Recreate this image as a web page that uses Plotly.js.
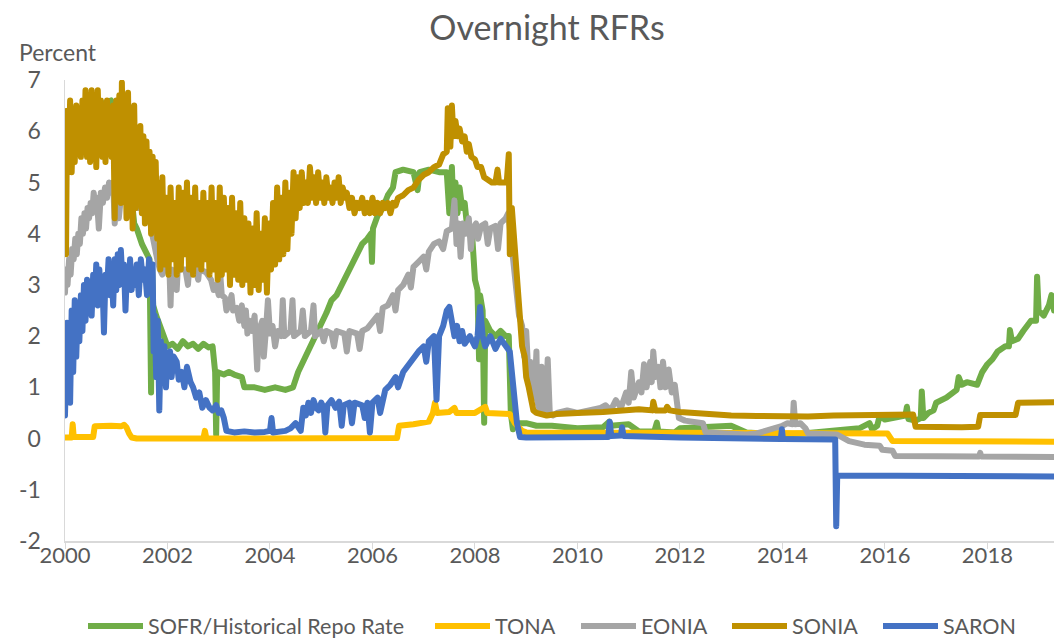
<!DOCTYPE html>
<html>
<head>
<meta charset="utf-8">
<script src="https://cdn.plot.ly/plotly-3.0.1.min.js"></script>
<style>
  html, body { margin: 0; padding: 0; background: #fff; }
  #chart { width: 1054px; height: 638px; }
  .scatterlayer path.js-line { stroke-linejoin: round; stroke-linecap: round; }
</style>
</head>
<body>
<div id="chart"></div>
<script>
// ---- data: [decimal year, percent] ----
const seriesNames = ["SOFR/Historical Repo Rate", "TONA", "EONIA", "SONIA", "SARON"];
const seriesColors = ["#70AD47", "#FFC000", "#A5A5A5", "#BF9000", "#4472C4"];
const tickYears = [2000, 2002, 2004, 2006, 2008, 2010, 2012, 2014, 2016, 2018];
const tickValues = [-2, -1, 0, 1, 2, 3, 4, 5, 6, 7];

const sofr = [[2000.00,5.5],[2000.1,5.6],[2000.2,5.8],[2000.3,6.0],[2000.4,6.4],[2000.5,6.5],[2000.8,6.55],[2000.9,6.6],
[2001.0,6.3],[2001.05,5.8],[2001.1,5.5],[2001.2,5.0],[2001.3,4.7],[2001.35,4.2],[2001.4,4.1],[2001.5,3.8],[2001.6,3.6],
[2001.65,3.5],[2001.68,0.9],[2001.70,3.3],[2001.72,2.6],[2001.78,2.4],[2001.85,2.2],[2001.9,2.0],[2001.95,1.9],[2002.0,1.8],
[2002.1,1.85],[2002.2,1.75],[2002.3,1.9],[2002.4,1.8],[2002.5,1.85],[2002.6,1.75],[2002.7,1.85],[2002.8,1.78],[2002.88,1.8],
[2002.9,1.35],[2002.93,1.3],[2002.95,0.08],[2002.97,1.3],[2003.1,1.25],[2003.2,1.3],[2003.3,1.25],[2003.45,1.2],[2003.5,1.0],
[2003.7,1.0],[2003.9,0.95],[2004.1,1.0],[2004.3,0.95],[2004.45,1.0],[2004.55,1.3],[2004.65,1.5],[2004.75,1.75],[2004.85,1.9],
[2005.0,2.2],[2005.1,2.45],[2005.2,2.7],[2005.3,2.8],[2005.4,3.0],[2005.5,3.2],[2005.6,3.45],[2005.7,3.6],[2005.8,3.8],
[2005.9,3.9],[2005.97,4.0],[2005.99,3.45],[2006.01,4.1],[2006.1,4.35],[2006.2,4.5],[2006.3,4.75],[2006.4,4.9],[2006.45,5.2],
[2006.6,5.25],[2006.8,5.2],[2006.88,4.85],[2006.92,5.2],[2007.1,5.25],[2007.3,5.2],[2007.45,5.2],[2007.5,4.4],[2007.55,5.3],
[2007.58,4.4],[2007.62,5.0],[2007.66,4.4],[2007.7,4.9],[2007.75,4.5],[2007.8,4.6],[2007.85,4.1],[2007.9,4.0],[2007.95,3.9],
[2008.0,3.1],[2008.05,2.9],[2008.08,1.55],[2008.1,2.8],[2008.15,2.5],[2008.18,0.31],[2008.2,2.3],[2008.3,2.1],[2008.4,2.0],
[2008.5,2.1],[2008.6,2.0],[2008.66,2.0],[2008.7,0.5],[2008.74,0.18],[2008.8,0.3],[2009.0,0.3],[2009.2,0.25],[2009.5,0.25],
[2010.0,0.2],[2010.5,0.22],[2010.62,0.33],[2010.65,0.25],[2011.0,0.28],[2011.2,0.14],[2011.5,0.14],[2011.55,0.31],[2011.58,0.14],
[2011.9,0.12],[2012.0,0.2],[2012.5,0.22],[2013.0,0.25],[2013.3,0.12],[2014.0,0.08],[2014.4,0.1],[2014.7,0.12],[2015.0,0.14],
[2015.5,0.2],[2015.7,0.3],[2015.75,0.18],[2015.85,0.25],[2015.9,0.45],[2016.0,0.37],[2016.2,0.4],[2016.4,0.45],[2016.43,0.62],
[2016.46,0.38],[2016.6,0.35],[2016.7,0.4],[2016.72,0.92],[2016.75,0.4],[2016.85,0.5],[2016.95,0.55],[2017.0,0.7],[2017.2,0.8],
[2017.4,0.95],[2017.44,1.2],[2017.5,1.05],[2017.6,1.1],[2017.8,1.05],[2017.9,1.3],[2018.0,1.45],[2018.1,1.55],[2018.2,1.7],
[2018.35,1.8],[2018.42,1.8],[2018.44,2.12],[2018.48,1.9],[2018.6,1.95],[2018.7,2.1],[2018.77,2.2],[2018.85,2.3],[2018.95,2.3],
[2018.97,3.16],[2019.0,2.5],[2019.1,2.4],[2019.2,2.6],[2019.25,2.8],[2019.3,2.5]];

const tona = [[2000.00,0.02],[2000.13,0.02],[2000.15,0.28],[2000.17,0.03],[2000.55,0.03],[2000.58,0.24],[2000.9,0.25],
[2001.1,0.24],[2001.15,0.27],[2001.2,0.22],[2001.25,0.1],[2001.3,0.02],[2001.4,0.0],[2002.70,0.0],[2002.73,0.15],[2002.76,0.0],
[2006.48,0.01],[2006.52,0.25],[2006.8,0.28],[2007.1,0.33],[2007.18,0.5],[2007.22,0.7],[2007.26,0.5],[2007.5,0.52],[2007.6,0.6],
[2007.64,0.5],[2008.0,0.5],[2008.2,0.62],[2008.24,0.5],[2008.68,0.48],[2008.78,0.3],[2008.92,0.15],[2009.0,0.12],[2016.05,0.1],
[2016.15,-0.05],[2019.3,-0.06]];

const eonia = [[2000.00,2.85],[2000.02,3.3],[2000.05,3.0],[2000.08,3.5],[2000.11,3.2],[2000.14,3.7],[2000.17,3.5],[2000.20,3.9],
[2000.23,3.6],[2000.26,4.0],[2000.29,3.8],[2000.32,4.3],[2000.35,4.0],[2000.38,4.4],[2000.41,4.1],[2000.44,4.5],[2000.47,4.3],
[2000.50,4.6],[2000.53,4.4],[2000.56,4.8],[2000.59,4.5],[2000.62,4.7],[2000.66,4.1],[2000.70,4.8],[2000.74,4.6],[2000.78,4.9],
[2000.82,4.7],[2000.86,5.0],[2000.90,4.8],[2000.94,5.0],[2000.97,4.2],[2001.00,4.8],[2001.05,4.3],[2001.10,4.8],[2001.20,4.7],
[2001.30,4.7],[2001.40,4.5],[2001.50,4.5],[2001.60,4.4],[2001.66,4.25],[2001.70,4.0],[2001.75,3.7],[2001.80,3.5],[2001.85,3.3],
[2001.90,3.2],[2001.95,3.35],[2002.00,3.3],[2002.04,3.25],[2002.06,2.6],[2002.08,3.3],[2002.15,3.25],[2002.18,2.9],[2002.20,3.3],
[2002.35,3.3],[2002.40,3.0],[2002.42,3.3],[2002.55,3.3],[2002.60,3.1],[2002.62,3.3],[2002.75,3.25],[2002.85,3.1],[2002.90,2.9],
[2002.95,3.0],[2003.00,2.8],[2003.03,3.2],[2003.06,2.8],[2003.12,2.75],[2003.15,2.5],[2003.20,2.6],[2003.25,2.8],[2003.28,2.5],
[2003.35,2.55],[2003.40,2.3],[2003.45,2.6],[2003.50,2.2],[2003.53,2.5],[2003.56,2.05],[2003.60,2.3],[2003.65,2.1],[2003.70,2.4],
[2003.75,1.35],[2003.78,2.1],[2003.85,2.3],[2003.88,1.6],[2003.92,2.1],[2003.96,2.7],[2004.00,2.05],[2004.05,2.2],[2004.10,1.8],
[2004.15,2.1],[2004.22,2.0],[2004.25,2.7],[2004.28,2.0],[2004.40,2.1],[2004.44,2.7],[2004.47,2.0],[2004.60,2.1],[2004.64,2.5],
[2004.68,2.0],[2004.80,2.1],[2004.85,2.6],[2004.88,2.0],[2005.00,2.1],[2005.05,1.9],[2005.10,2.1],[2005.20,2.05],[2005.25,1.8],
[2005.30,2.1],[2005.45,2.05],[2005.50,1.7],[2005.55,2.1],[2005.70,2.05],[2005.75,1.75],[2005.80,2.1],[2005.90,2.15],[2006.00,2.3],
[2006.10,2.4],[2006.15,2.1],[2006.20,2.55],[2006.30,2.6],[2006.40,2.8],[2006.45,2.5],[2006.50,2.9],[2006.60,3.0],[2006.70,3.2],
[2006.75,2.95],[2006.80,3.35],[2006.90,3.45],[2007.00,3.55],[2007.05,3.3],[2007.10,3.65],[2007.20,3.8],[2007.30,3.85],[2007.38,3.7],
[2007.45,4.05],[2007.55,4.1],[2007.60,4.65],[2007.64,3.8],[2007.68,4.2],[2007.72,3.55],[2007.76,4.2],[2007.82,4.0],[2007.88,4.3],
[2007.92,3.7],[2007.96,4.1],[2008.02,4.2],[2008.06,3.9],[2008.12,4.15],[2008.20,4.2],[2008.25,3.8],[2008.30,4.1],[2008.40,4.15],
[2008.45,3.7],[2008.50,4.2],[2008.60,4.3],[2008.65,4.4],[2008.70,3.9],[2008.75,3.3],[2008.80,2.8],[2008.86,2.4],[2008.92,2.2],
[2008.96,1.6],[2009.00,2.1],[2009.05,1.1],[2009.08,1.5],[2009.12,0.9],[2009.16,0.8],[2009.20,1.7],[2009.22,0.7],[2009.28,0.5],
[2009.30,1.4],[2009.33,0.5],[2009.38,0.6],[2009.42,1.55],[2009.46,0.5],[2009.52,0.45],[2009.6,0.5],[2009.8,0.55],[2010.0,0.5],
[2010.3,0.55],[2010.45,0.6],[2010.55,0.65],[2010.65,0.55],[2010.75,0.75],[2010.85,0.6],[2010.95,0.9],[2011.0,0.7],[2011.05,1.3],
[2011.1,0.8],[2011.2,1.1],[2011.25,0.9],[2011.3,1.45],[2011.35,1.0],[2011.42,1.5],[2011.45,1.1],[2011.48,1.7],[2011.52,1.2],
[2011.58,1.4],[2011.62,1.0],[2011.67,1.5],[2011.72,1.0],[2011.78,1.35],[2011.84,0.9],[2011.9,1.05],[2011.94,0.7],[2011.98,0.4],
[2012.1,0.35],[2012.3,0.33],[2012.45,0.3],[2012.5,0.12],[2012.8,0.1],[2013.0,0.08],[2013.3,0.08],[2013.5,0.1],[2013.7,0.15],
[2013.9,0.2],[2014.0,0.25],[2014.1,0.3],[2014.2,0.28],[2014.22,0.7],[2014.25,0.28],[2014.35,0.3],[2014.45,0.2],[2014.5,0.1],
[2014.9,0.1],[2015.06,0.08],[2015.3,-0.05],[2015.6,-0.12],[2015.9,-0.14],[2015.95,-0.22],[2016.15,-0.24],[2016.2,-0.34],
[2017.84,-0.35],[2017.86,-0.28],[2017.88,-0.35],[2019.3,-0.36]];

const sonia = [[2000.00,6.0],[2000.02,3.6],[2000.04,6.4],[2000.07,5.3],[2000.10,6.6],[2000.13,5.2],[2000.16,6.3],[2000.19,5.4],
[2000.22,6.5],[2000.25,5.6],[2000.28,6.4],[2000.31,5.5],[2000.34,6.6],[2000.37,5.6],[2000.40,6.8],[2000.43,5.5],[2000.46,6.7],
[2000.49,5.4],[2000.52,6.8],[2000.55,5.7],[2000.58,6.7],[2000.61,5.3],[2000.64,6.8],[2000.67,5.6],[2000.70,6.6],[2000.73,5.5],
[2000.76,6.5],[2000.79,5.4],[2000.82,6.6],[2000.85,5.6],[2000.88,6.4],[2000.91,5.5],[2000.94,6.5],[2000.97,4.3],[2001.00,6.6],
[2001.03,5.5],[2001.06,6.7],[2001.09,4.6],[2001.11,6.95],[2001.14,4.9],[2001.17,6.6],[2001.20,4.3],[2001.23,6.75],[2001.26,4.6],
[2001.29,6.4],[2001.32,4.1],[2001.35,6.5],[2001.38,4.5],[2001.41,6.0],[2001.44,4.6],[2001.47,6.1],[2001.50,4.4],[2001.53,5.9],
[2001.56,4.2],[2001.59,5.8],[2001.62,4.5],[2001.65,5.6],[2001.68,4.0],[2001.71,5.5],[2001.74,4.1],[2001.77,5.4],[2001.80,3.9],
[2001.83,5.0],[2001.86,3.3],[2001.90,5.1],[2001.94,3.4],[2001.98,4.7],[2002.02,3.2],[2002.06,4.9],[2002.10,3.5],[2002.14,4.6],
[2002.18,3.2],[2002.22,4.9],[2002.26,3.3],[2002.30,4.8],[2002.34,3.6],[2002.38,5.0],[2002.42,3.3],[2002.46,4.7],[2002.50,3.2],
[2002.54,4.9],[2002.58,3.4],[2002.62,4.6],[2002.66,3.3],[2002.70,4.8],[2002.74,3.5],[2002.78,4.6],[2002.82,3.2],[2002.86,4.9],
[2002.90,3.3],[2002.94,4.6],[2002.98,3.1],[2003.02,4.9],[2003.06,3.2],[2003.10,4.7],[2003.14,3.3],[2003.18,4.5],[2003.22,3.0],
[2003.26,4.7],[2003.30,3.2],[2003.34,4.4],[2003.38,3.1],[2003.42,4.6],[2003.46,3.0],[2003.50,4.3],[2003.54,3.1],[2003.58,4.2],
[2003.62,2.85],[2003.66,4.1],[2003.70,3.0],[2003.74,4.4],[2003.78,2.9],[2003.82,4.0],[2003.86,3.1],[2003.90,4.3],[2003.94,2.85],
[2003.98,4.2],[2004.02,3.3],[2004.06,4.6],[2004.10,3.4],[2004.14,4.9],[2004.18,3.5],[2004.22,4.7],[2004.26,3.6],[2004.30,5.0],
[2004.34,3.7],[2004.38,4.8],[2004.42,4.0],[2004.46,5.2],[2004.50,4.3],[2004.54,5.1],[2004.58,4.5],[2004.62,5.2],[2004.66,4.6],
[2004.70,5.0],[2004.74,4.6],[2004.78,5.3],[2004.82,4.7],[2004.86,5.1],[2004.90,4.6],[2004.94,5.2],[2004.98,4.7],[2005.02,5.0],
[2005.06,4.6],[2005.10,5.1],[2005.14,4.7],[2005.18,4.9],[2005.22,4.6],[2005.26,5.0],[2005.30,4.7],[2005.34,5.1],[2005.38,4.6],
[2005.42,4.9],[2005.46,4.7],[2005.50,4.8],[2005.55,4.5],[2005.60,4.7],[2005.65,4.4],[2005.70,4.6],[2005.75,4.5],[2005.80,4.7],
[2005.85,4.4],[2005.90,4.6],[2005.95,4.4],[2006.00,4.7],[2006.05,4.4],[2006.10,4.6],[2006.15,4.4],[2006.20,4.6],[2006.25,4.5],
[2006.30,4.6],[2006.35,4.4],[2006.40,4.6],[2006.45,4.55],[2006.50,4.7],[2006.60,4.75],[2006.70,4.85],[2006.80,4.9],[2006.90,5.05],
[2007.00,5.15],[2007.10,5.2],[2007.20,5.3],[2007.30,5.35],[2007.38,5.55],[2007.45,5.6],[2007.47,6.45],[2007.52,5.7],[2007.55,6.5],
[2007.58,5.9],[2007.62,6.2],[2007.66,5.9],[2007.70,6.05],[2007.75,5.8],[2007.80,5.9],[2007.84,5.6],[2007.88,5.75],[2007.93,5.5],
[2008.00,5.45],[2008.05,5.3],[2008.12,5.3],[2008.18,5.1],[2008.25,5.05],[2008.33,5.0],[2008.40,5.0],[2008.44,5.25],[2008.47,5.0],
[2008.55,5.0],[2008.62,5.0],[2008.66,5.55],[2008.68,3.6],[2008.72,4.5],[2008.76,3.9],[2008.80,3.2],[2008.84,2.8],[2008.88,2.2],
[2008.92,1.8],[2008.97,1.6],[2009.00,1.2],[2009.05,1.0],[2009.10,0.7],[2009.14,0.55],[2009.2,0.5],[2009.4,0.45],[2009.6,0.48],
[2009.8,0.5],[2010.0,0.5],[2010.5,0.52],[2011.0,0.55],[2011.2,0.57],[2011.46,0.55],[2011.48,0.72],[2011.52,0.55],[2011.72,0.55],
[2011.75,0.62],[2011.8,0.55],[2012.0,0.52],[2012.5,0.48],[2013.0,0.45],[2013.5,0.44],[2014.0,0.43],[2014.5,0.43],[2015.0,0.45],
[2015.5,0.46],[2016.0,0.47],[2016.55,0.47],[2016.6,0.23],[2017.0,0.22],[2017.5,0.22],[2017.82,0.23],[2017.86,0.46],[2018.55,0.46],
[2018.6,0.7],[2019.3,0.71]];

const saron = [[2000.00,0.45],[2000.01,1.3],[2000.02,0.7],[2000.04,2.26],[2000.06,1.0],[2000.08,2.2],[2000.10,0.7],[2000.13,2.5],
[2000.16,1.3],[2000.19,2.7],[2000.22,1.6],[2000.25,2.6],[2000.28,1.9],[2000.31,2.8],[2000.34,2.1],[2000.37,3.0],[2000.40,2.3],
[2000.43,3.1],[2000.46,2.6],[2000.49,3.0],[2000.52,2.4],[2000.55,3.2],[2000.58,2.7],[2000.61,3.4],[2000.64,2.6],[2000.67,3.3],
[2000.70,2.8],[2000.73,3.1],[2000.76,2.07],[2000.79,3.2],[2000.82,2.9],[2000.85,3.5],[2000.88,2.8],[2000.91,3.3],[2000.94,2.6],
[2000.97,3.5],[2001.00,2.9],[2001.03,3.6],[2001.06,3.0],[2001.09,3.68],[2001.12,3.1],[2001.15,3.4],[2001.18,2.5],[2001.21,3.3],
[2001.24,2.9],[2001.27,3.5],[2001.30,2.9],[2001.33,3.3],[2001.36,3.0],[2001.40,3.4],[2001.44,2.8],[2001.48,3.5],[2001.52,3.1],
[2001.56,3.3],[2001.60,2.8],[2001.64,3.5],[2001.68,3.0],[2001.71,3.4],[2001.73,1.7],[2001.75,2.4],[2001.78,1.2],[2001.81,2.3],
[2001.84,0.55],[2001.87,1.9],[2001.90,1.3],[2001.94,1.8],[2001.97,1.0],[2002.00,1.6],[2002.05,1.7],[2002.08,1.2],[2002.12,1.6],
[2002.18,1.5],[2002.22,1.15],[2002.28,1.3],[2002.33,1.0],[2002.38,1.4],[2002.45,1.1],[2002.50,1.0],[2002.56,0.8],[2002.62,0.9],
[2002.68,0.6],[2002.75,0.75],[2002.82,0.6],[2002.88,0.55],[2002.95,0.65],[2003.00,0.5],[2003.05,0.55],[2003.10,0.4],[2003.15,0.15],
[2003.3,0.12],[2003.5,0.14],[2003.7,0.12],[2003.9,0.13],[2004.0,0.15],[2004.03,0.4],[2004.06,0.12],[2004.3,0.15],[2004.4,0.2],
[2004.5,0.3],[2004.6,0.15],[2004.65,0.6],[2004.7,0.45],[2004.75,0.7],[2004.8,0.5],[2004.85,0.75],[2004.9,0.6],[2004.95,0.55],
[2005.0,0.7],[2005.05,0.6],[2005.08,0.12],[2005.12,0.65],[2005.2,0.75],[2005.28,0.6],[2005.35,0.72],[2005.40,0.25],[2005.44,0.65],
[2005.55,0.7],[2005.6,0.3],[2005.65,0.7],[2005.8,0.65],[2005.85,0.4],[2005.9,0.7],[2005.95,0.12],[2006.0,0.7],[2006.1,0.8],
[2006.15,0.5],[2006.25,0.95],[2006.35,1.05],[2006.45,1.2],[2006.5,1.0],[2006.6,1.3],[2006.7,1.45],[2006.8,1.6],[2006.9,1.7],
[2007.0,1.8],[2007.05,1.5],[2007.1,1.9],[2007.2,2.0],[2007.25,0.76],[2007.3,2.0],[2007.38,2.2],[2007.45,2.5],[2007.5,2.57],
[2007.55,2.3],[2007.6,2.0],[2007.65,2.2],[2007.7,1.9],[2007.75,2.1],[2007.8,1.85],[2007.9,2.0],[2008.0,1.8],[2008.05,2.0],
[2008.1,2.57],[2008.15,2.0],[2008.2,1.8],[2008.3,2.0],[2008.4,1.75],[2008.5,1.95],[2008.6,1.8],[2008.68,1.7],[2008.75,1.0],
[2008.82,0.3],[2008.88,0.03],[2009.0,0.02],[2010.6,0.03],[2010.63,0.33],[2010.66,0.05],[2010.85,0.06],[2010.87,0.22],[2010.9,0.05],
[2012.0,0.02],[2013.0,0.0],[2013.97,-0.01],[2013.99,0.18],[2014.01,-0.01],[2015.03,-0.02],[2015.05,-1.71],[2015.07,-0.72],
[2019.3,-0.74]];

const allSeries = [sofr, tona, eonia, sonia, saron];

const legendIds = ["legend", "legend2", "legend3", "legend4", "legend5"];
const legendLeft = [83, 430, 576, 727, 878];

const traces = allSeries.map((s, i) => ({
  type: "scatter",
  mode: "lines",
  name: seriesNames[i],
  x: s.map(p => p[0]),
  y: s.map(p => p[1]),
  line: { color: seriesColors[i], width: 6 },
  legend: legendIds[i],
  hoverinfo: "skip"
}));

const gray = "#595959";
const fontFam = "Lato, 'Open Sans', sans-serif";

const layout = {
  width: 1054,
  height: 638,
  paper_bgcolor: "#ffffff",
  plot_bgcolor: "#ffffff",
  margin: { l: 65, r: 0, t: 80, b: 96.5 },
  title: {
    text: "Overnight RFRs",
    font: { family: fontFam, size: 34, color: gray },
    x: 547 / 1054, xref: "container", xanchor: "center",
    y: 1 - 28 / 638, yref: "container", yanchor: "middle"
  },
  xaxis: {
    range: [2000, 2019.3],
    tickvals: tickYears,
    ticktext: tickYears.map(String),
    showgrid: false,
    zeroline: false,
    showline: true,
    linecolor: "#D9D9D9",
    linewidth: 1.5,
    ticks: "outside",
    ticklen: 6,
    tickcolor: "#D9D9D9",
    tickfont: { family: fontFam, size: 22, color: gray },
    ticklabelstandoff: -12
  },
  yaxis: {
    range: [-2, 7],
    tickvals: tickValues,
    ticktext: tickValues.map(String),
    showgrid: false,
    zeroline: false,
    showline: true,
    linecolor: "#D9D9D9",
    linewidth: 1.5,
    ticks: "",
    tickfont: { family: fontFam, size: 23, color: gray },
    ticklabelstandoff: 18
  },
  annotations: [{
    text: "Percent",
    xref: "paper", yref: "paper",
    x: (17 - 65) / 989, xanchor: "left",
    y: (541.5 - 52) / 461.5, yanchor: "middle",
    showarrow: false,
    font: { family: fontFam, size: 23, color: gray }
  }],
  showlegend: true
};

legendIds.forEach((id, i) => {
  layout[id] = {
    orientation: "h",
    xref: "container", yref: "container",
    x: legendLeft[i] / 1054, xanchor: "left",
    y: 1 - 626 / 638, yanchor: "middle",
    bgcolor: "rgba(0,0,0,0)",
    font: { family: fontFam, size: 21.5, color: gray },
    itemwidth: 55,
    itemclick: false,
    itemdoubleclick: false
  };
});

Plotly.newPlot("chart", traces, layout, { displayModeBar: false, staticPlot: true });
</script>
</body>
</html>
